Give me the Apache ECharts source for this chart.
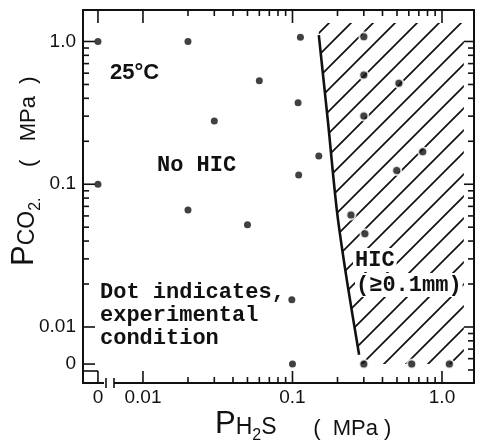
<!DOCTYPE html>
<html>
<head>
<meta charset="utf-8">
<script src="https://cdn.jsdelivr.net/npm/echarts@6/dist/echarts.min.js"></script>
<style>
  html, body { margin: 0; padding: 0; background: #fff; }
  #main { width: 482px; height: 443px; }
</style>
</head>
<body>
<div id="main"></div>
<script>
// partial pressures in MPa, 0 means that gas was not added
const noHicH2S = [0, 0.02, 0.03, 0, 0.02, 0.113, 0.06, 0.109, 0.15, 0.11, 0.05, 0.099, 0.1]
const noHicCO2 = [1.0, 1.0, 0.277, 0.1, 0.066, 1.07, 0.531, 0.373, 0.158, 0.116, 0.052, 0.0155, 0]
const hicH2S = [0.3, 0.3, 0.515, 0.3, 0.743, 0.498, 0.246, 0.305, 0.3, 0.627, 1.12]
const hicCO2 = [1.08, 0.582, 0.51, 0.301, 0.169, 0.125, 0.061, 0.045, 0, 0, 0]
// border line between No HIC and HIC
const limitH2S = [0.150, 0.173, 0.199, 0.231, 0.279]
const limitCO2 = [1.11, 0.269, 0.063, 0.0213, 0.0064]
// how far the hatched HIC field reaches
const hatchH2SMax = 1.4
const hatchCO2Max = 1.35
const hatchCO2Min = 0.0055

const xTicks = [0, 0.01, 0.1, 1.0]
const xTickLabels = ['0', '0.01', '0.1', '1.0']
const yTicks = [0, 0.01, 0.1, 1.0]
const yTickLabels = ['0', '0.01', '0.1', '1.0']

const INK = '#111'
const MONO = 'bold 22px "Liberation Mono", "DejaVu Sans Mono", monospace'
const SANS = '"Liberation Sans", Arial, sans-serif'

// plot frame in pixels
const GRID_L = 83
const GRID_T = 10
const GRID_R = 474
const GRID_B = 383

// broken axes: the value 0 is drawn a little left of / below 0.01
const X_ZERO = 0.0050
const Y_ZERO = 0.0055
const X_MIN = 0.003971
const X_MAX = 1.637
const Y_MIN = 0.004052
const Y_MAX = 1.662

function xAt (v) { return v === 0 ? X_ZERO : v }
function yAt (v) { return v === 0 ? Y_ZERO : v }

// 2..9 of every decade between lo and hi
function minorTicks (lo, hi) {
  let out = []
  for (let d = -3; d <= 0; d++) {
    for (let k = 2; k <= 9; k++) {
      let v = +(k * Math.pow(10, d)).toPrecision(3)
      if (v > lo && v < hi) out.push(v)
    }
  }
  return out
}

function tickLabel (v, values, labels) {
  for (let i = 0; i < values.length; i++) {
    if (Math.abs(Math.log10(v) - Math.log10(values[i])) < 0.01) return labels[i]
  }
  return ''
}

const xMajor = xTicks.map(xAt)
const yMajor = yTicks.map(yAt)

function logAxis (position, min, max, labels) {
  return {
    type: 'log',
    logBase: 10,
    position: position,
    min: min,
    max: max,
    axisLine: { show: true, onZero: false, lineStyle: { color: INK, width: 2 } },
    axisTick: { show: false },
    minorTick: { show: false },
    splitLine: { show: false },
    axisLabel: labels || { show: false }
  }
}

const xLabels = {
  show: true,
  customValues: xMajor,
  margin: 5,
  color: INK,
  fontFamily: SANS,
  fontSize: 19,
  formatter: function (v) { return tickLabel(v, xMajor, xTickLabels) }
}
const yLabels = {
  show: true,
  customValues: yMajor,
  margin: 7,
  color: INK,
  fontFamily: SANS,
  fontSize: 19,
  formatter: function (v) { return tickLabel(v, yMajor, yTickLabels) }
}

// diagonal hatching for the HIC field
const tile = document.createElement('canvas')
tile.width = 22
tile.height = 22
const tc = tile.getContext('2d')
tc.strokeStyle = INK
tc.lineWidth = 1.7
tc.beginPath()
tc.moveTo(0, 22); tc.lineTo(22, 0)
tc.moveTo(-3, 3); tc.lineTo(3, -3)
tc.moveTo(19, 25); tc.lineTo(25, 19)
tc.stroke()

let hatchPolygon = [[limitH2S[0], hatchCO2Max]]
for (let i = 0; i < limitH2S.length; i++) hatchPolygon.push([limitH2S[i], limitCO2[i]])
hatchPolygon.push([limitH2S[limitH2S.length - 1], hatchCO2Min])
hatchPolygon.push([hatchH2SMax, hatchCO2Min])
hatchPolygon.push([hatchH2SMax, hatchCO2Max])

// same log mapping as the axes, used for the inward frame ticks
function xPix (v) {
  return GRID_L + (Math.log10(v) - Math.log10(X_MIN)) / (Math.log10(X_MAX) - Math.log10(X_MIN)) * (GRID_R - GRID_L)
}
function yPix (v) {
  return GRID_B - (Math.log10(v) - Math.log10(Y_MIN)) / (Math.log10(Y_MAX) - Math.log10(Y_MIN)) * (GRID_B - GRID_T)
}

let ticks = []
function tick (side, v, len) {
  let shape
  if (side === 'bottom') shape = { x1: xPix(v), y1: GRID_B, x2: xPix(v), y2: GRID_B - len }
  else if (side === 'top') shape = { x1: xPix(v), y1: GRID_T, x2: xPix(v), y2: GRID_T + len }
  else if (side === 'left') shape = { x1: GRID_L, y1: yPix(v), x2: GRID_L + len, y2: yPix(v) }
  else shape = { x1: GRID_R, y1: yPix(v), x2: GRID_R - len, y2: yPix(v) }
  ticks.push({ type: 'line', zlevel: 1, z: 100, silent: true, shape: shape, style: { stroke: INK, lineWidth: 1.6 } })
}
xMajor.forEach(function (v) { tick('bottom', v, 12); tick('top', v, 13) })
yMajor.forEach(function (v) { tick('left', v, 12) })
yTicks.slice(1).forEach(function (v) { tick('right', v, 10) })
minorTicks(0.01, 1).forEach(function (v) { tick('bottom', v, 6); tick('top', v, 6); tick('left', v, 6) })
minorTicks(0.0045, 1).forEach(function (v) { tick('right', v, 6) })

let myChart = echarts.init(document.getElementById('main'), null, { renderer: 'canvas' })

let titleRich = {
  p: { fontFamily: SANS, fontSize: 31, lineHeight: 31, padding: [0, 0, 4, 0], verticalAlign: 'bottom', fill: INK },
  s: { fontFamily: SANS, fontSize: 23, lineHeight: 23, padding: [0, 0, 4, 0], verticalAlign: 'bottom', fill: INK },
  ss: { fontFamily: SANS, fontSize: 16, lineHeight: 16, verticalAlign: 'bottom', fill: INK },
  m: { fontFamily: SANS, fontSize: 22, lineHeight: 22, padding: [0, 0, 4, 0], verticalAlign: 'bottom', fill: INK }
}

let graphics = [
  { type: 'text', z: 50, x: 110, y: 73, style: { text: '25°C', font: 'bold 22px ' + SANS, fill: INK, verticalAlign: 'middle' } },
  { type: 'text', z: 50, x: 157, y: 165, style: { text: 'No HIC', font: MONO, fill: INK, verticalAlign: 'middle' } },
  { type: 'text', z: 50, x: 100, y: 280.5, style: { text: 'Dot indicates,\nexperimental\ncondition', font: MONO, lineHeight: 23, fill: INK, verticalAlign: 'top' } },
  { type: 'text', z: 50, x: 353, y: 260, style: { text: 'HIC', font: MONO, fill: INK, verticalAlign: 'middle', backgroundColor: '#fff', padding: [1, 2] } },
  { type: 'text', z: 50, x: 355, y: 285, style: { text: '(≥0.1mm)', font: MONO, fill: INK, verticalAlign: 'middle', backgroundColor: '#fff', padding: [1, 1] } },
  // axis titles
  {
    type: 'text', z: 50, x: 215, y: 428,
    style: { text: '{p|P}{s|H}{ss|2}{s|S}{m|      (  MPa )}', fill: INK, verticalAlign: 'middle', rich: titleRich }
  },
  {
    type: 'text', z: 50, x: 28, y: 266, rotation: Math.PI / 2,
    style: { text: '{p|P}{s|CO}{ss|2.}{m|     (   MPa  )}', fill: INK, verticalAlign: 'middle', rich: titleRich }
  },
  // axis break marks near the origin
  { type: 'rect', z: 50, shape: { x: 104, y: 380, width: 10, height: 6 }, style: { fill: '#fff' } },
  { type: 'line', z: 51, shape: { x1: 106, y1: 378, x2: 106, y2: 388 }, style: { stroke: INK, lineWidth: 1.6 } },
  { type: 'line', z: 51, shape: { x1: 114, y1: 378, x2: 114, y2: 388 }, style: { stroke: INK, lineWidth: 1.6 } },
  { type: 'line', z: 51, shape: { x1: 83, y1: 371, x2: 98, y2: 371 }, style: { stroke: INK, lineWidth: 1.6 } }
]

let option = {
  backgroundColor: '#fff',
  animation: false,
  grid: {
    left: GRID_L,
    top: GRID_T,
    right: 482 - GRID_R,
    bottom: 443 - GRID_B,
    outerBoundsMode: 'none',
    containLabel: false
  },
  xAxis: [
    logAxis('bottom', X_MIN, X_MAX, xLabels),
    logAxis('top', X_MIN, X_MAX)
  ],
  yAxis: [
    logAxis('left', Y_MIN, Y_MAX, yLabels),
    logAxis('right', Y_MIN, Y_MAX)
  ],
  series: [
    {
      name: 'HIC field',
      type: 'custom',
      xAxisIndex: 0,
      yAxisIndex: 0,
      z: 1,
      silent: true,
      data: [[limitH2S[0], limitCO2[0]]],
      renderItem: function (params, api) {
        return {
          type: 'polygon',
          shape: { points: hatchPolygon.map(function (p) { return api.coord(p) }) },
          style: { fill: { image: tile, repeat: 'repeat' }, stroke: null }
        }
      }
    },
    {
      name: 'limit',
      type: 'line',
      xAxisIndex: 0,
      yAxisIndex: 0,
      z: 3,
      symbol: 'none',
      smooth: 0.3,
      lineStyle: { color: INK, width: 2.6 },
      data: limitH2S.map(function (x, i) { return [x, limitCO2[i]] })
    },
    {
      name: 'No HIC',
      type: 'scatter',
      xAxisIndex: 0,
      yAxisIndex: 0,
      z: 4,
      symbolSize: 7,
      itemStyle: { color: INK },
      data: noHicH2S.map(function (x, i) { return [xAt(x), yAt(noHicCO2[i])] })
    },
    {
      name: 'HIC',
      type: 'scatter',
      xAxisIndex: 0,
      yAxisIndex: 0,
      z: 4,
      symbolSize: 9,
      itemStyle: { color: INK, borderColor: '#fff', borderWidth: 2 },
      data: hicH2S.map(function (x, i) { return [xAt(x), yAt(hicCO2[i])] })
    }
  ],
  graphic: graphics.concat(ticks)
}

myChart.setOption(option)
</script>
</body>
</html>
